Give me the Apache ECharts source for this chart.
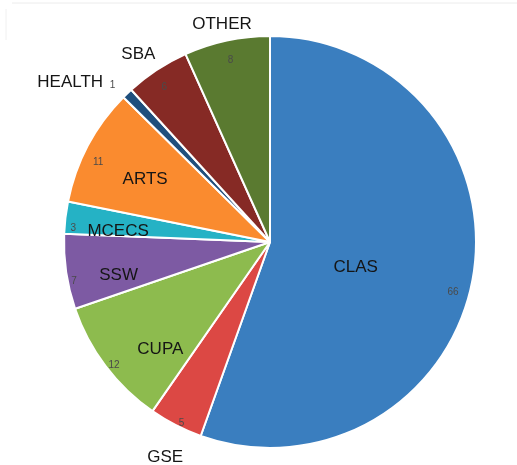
<!DOCTYPE html>
<html>
<head>
<meta charset="utf-8">
<script src="https://cdn.jsdelivr.net/npm/echarts@6/dist/echarts.min.js"></script>
<style>
html,body{margin:0;padding:0;background:#fff;}
#chart{width:517px;height:465px;}
</style>
</head>
<body>
<div id="chart"></div>
<script>
var categories = ['CLAS', 'GSE', 'CUPA', 'SSW', 'MCECS', 'ARTS', 'HEALTH', 'SBA', 'OTHER'];
var values = [66, 5, 12, 7, 3, 11, 1, 6, 8];
var colors = ['#3a7ebf', '#dc4844', '#8dbb4e', '#7d5aa3', '#25b2c5', '#fa8b2f', '#1f4f7d', '#862a25', '#5a7a30'];

var insideNames = ['CUPA', 'SSW', 'MCECS', 'ARTS'];
var outsideNames = ['GSE', 'SBA', 'OTHER'];

// label placement tweaks (styling only)
var nameOffsets = {
  CLAS: [-6, 9], ARTS: [12, 10], MCECS: [2, 8], SSW: [2, 11], CUPA: [14, 14],
  OTHER: [0, 6], SBA: [-6, 4], GSE: [0, 12], HEALTH: [-35, 5]
};
var valueOffsets = {
  CLAS: [-12, 16], CUPA: [2, 4], GSE: [2, 5], OTHER: [2, 12], SBA: [3, 11],
  ARTS: [3, 13], MCECS: [0, 10], SSW: [0, 11]
};

var CX = 270, CY = 242, R = 206;
var nameFont = {fontFamily: 'Liberation Sans, Arial, sans-serif', fontSize: 17, color: '#151515'};
var valFont = {fontFamily: 'Liberation Sans, Arial, sans-serif', fontSize: 10, color: '#4a4a4a'};

function base(radius, extra) {
  return Object.assign({
    type: 'pie',
    center: [CX, CY],
    radius: radius,
    startAngle: 90,
    clockwise: true,
    silent: true,
    animation: false,
    avoidLabelOverlap: false,
    labelLine: {show: false},
    emphasis: {disabled: true},
    itemStyle: {color: 'transparent', borderWidth: 0}
  }, extra || {});
}

function dataWith(labelFn) {
  return categories.map(function (c, i) {
    var d = {name: c, value: values[i]};
    var lab = labelFn(c, i);
    d.label = lab || {show: false};
    return d;
  });
}

function nameLabel(c) {
  return Object.assign({show: true, position: 'inside', formatter: '{b}', offset: nameOffsets[c] || [0, 0]}, nameFont);
}

var option = {
  backgroundColor: '#fff',
  graphic: [
    {type: 'line', silent: true, shape: {x1: 12, y1: 3, x2: 517, y2: 3}, style: {stroke: '#ececec', lineWidth: 1}},
    {type: 'line', silent: true, shape: {x1: 6, y1: 9, x2: 6, y2: 40}, style: {stroke: '#f0f0f0', lineWidth: 1}}
  ],
  series: [
    base([0, R], {
      itemStyle: {borderColor: '#fff', borderWidth: 2},
      data: categories.map(function (c, i) {
        return {name: c, value: values[i], itemStyle: {color: colors[i]}};
      }),
      label: {show: false}
    }),
    // inside category names
    base([100, 204], {
      data: dataWith(function (c) {
        return insideNames.indexOf(c) >= 0 ? nameLabel(c) : null;
      })
    }),
    // CLAS name
    base([0, 180], {
      data: dataWith(function (c) {
        return c === 'CLAS' ? nameLabel(c) : null;
      })
    }),
    // values near the rim
    base([186, 204], {
      data: dataWith(function (c) {
        if (c !== 'HEALTH') {
          return Object.assign({show: true, position: 'inside', formatter: '{c}', offset: valueOffsets[c] || [0, 10]}, valFont);
        }
        return null;
      })
    }),
    // outside names
    base([214, 238], {
      data: dataWith(function (c) {
        if (outsideNames.indexOf(c) >= 0) {
          return nameLabel(c);
        }
        if (c === 'HEALTH') {
          return {
            show: true, position: 'inside', offset: nameOffsets.HEALTH,
            formatter: '{n|{b}}  {v|{c}}',
            rich: {n: nameFont, v: Object.assign({padding: [6, 0, 0, 0]}, valFont)}
          };
        }
        return null;
      })
    })
  ]
};

var chart = echarts.init(document.getElementById('chart'), null, {renderer: 'canvas'});
chart.setOption(option);
</script>
</body>
</html>
